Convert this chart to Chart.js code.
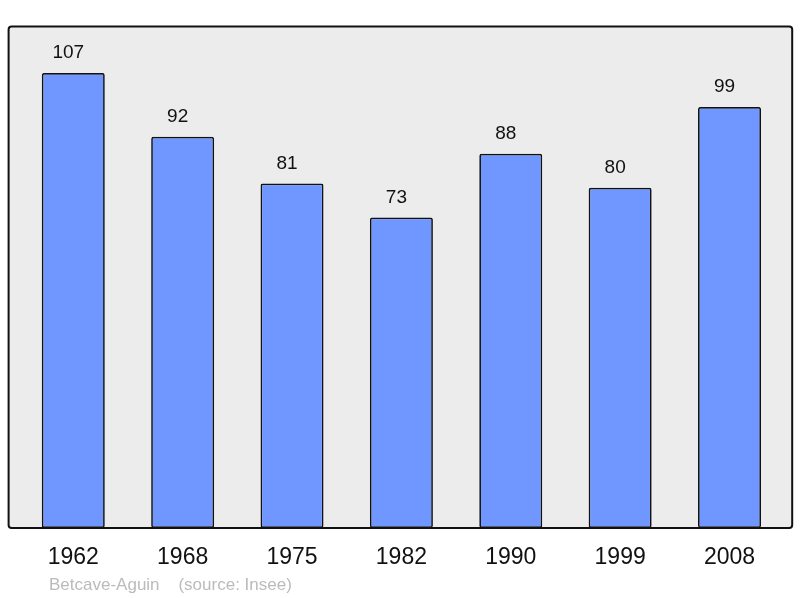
<!DOCTYPE html>
<html lang="fr">
<head>
<meta charset="UTF-8">
<title>Betcave-Aguin population</title>
<script src="https://cdn.jsdelivr.net/npm/chart.js@4.4.0/dist/chart.umd.min.js"></script>
<style>
    html, body { margin: 0; padding: 0; background: #fff; overflow: hidden; }
    #wrap { width: 800px; height: 598px; }
</style>
</head>
<body>
<div id="wrap"><canvas id="chart"></canvas></div>
<script>
    const years = ['1962', '1968', '1975', '1982', '1990', '1999', '2008'];
    const population = [107, 92, 81, 73, 88, 80, 99];
    const footerText = 'Betcave-Aguin    (source: Insee)';

    const FONT = '"Liberation Sans", Arial, sans-serif';

    // grey panel behind the bars, black rounded frame over them
    const framePlugin = {
        id: 'frame',
        box(chart) {
            const a = chart.chartArea;
            return { x: a.left - 10, y: a.top - 0.5, w: (a.right + 8) - (a.left - 10), h: a.bottom - a.top + 0.5 };
        },
        beforeDatasetsDraw(chart) {
            const c = chart.ctx, b = this.box(chart);
            c.save();
            c.fillStyle = '#ececec';
            c.beginPath();
            c.roundRect(b.x, b.y, b.w, b.h, 3);
            c.fill();
            c.restore();
        },
        afterDatasetsDraw(chart) {
            const c = chart.ctx, b = this.box(chart);
            c.save();
            c.strokeStyle = '#111';
            c.lineWidth = 2;
            c.beginPath();
            c.roundRect(b.x, b.y, b.w, b.h, 3);
            c.stroke();
            c.restore();
        }
    };

    const valueLabels = {
        id: 'valueLabels',
        afterDatasetsDraw(chart) {
            const c = chart.ctx;
            const meta = chart.getDatasetMeta(0);
            c.save();
            c.font = '19px ' + FONT;
            c.fillStyle = '#111';
            c.textAlign = 'center';
            c.textBaseline = 'alphabetic';
            meta.data.forEach((bar, i) => {
                c.fillText(String(population[i]), bar.x - 5, bar.y - 15);
            });
            c.restore();
        }
    };

    const footer = {
        id: 'footer',
        afterDraw(chart) {
            const c = chart.ctx;
            c.save();
            c.font = '17px ' + FONT;
            c.fillStyle = '#bbbbbb';
            c.textAlign = 'left';
            c.textBaseline = 'alphabetic';
            c.fillText(footerText, 49, 590);
            c.restore();
        }
    };

    new Chart(document.getElementById('chart'), {
        type: 'bar',
        data: {
            labels: years,
            datasets: [{
                data: population,
                backgroundColor: '#7096ff',
                borderColor: '#111',
                borderWidth: 1.7,
                borderRadius: 2,
                borderSkipped: false,
                barPercentage: 0.576,
                categoryPercentage: 1
            }]
        },
        options: {
            responsive: true,
            maintainAspectRatio: false,
            animation: false,
            devicePixelRatio: 1,
            layout: { padding: { left: 18.6, right: 15.8, top: 27, bottom: 0 } },
            plugins: {
                legend: { display: false },
                tooltip: { enabled: false }
            },
            scales: {
                x: {
                    grid: { display: false, drawTicks: false },
                    border: { display: false },
                    ticks: {
                        color: '#111',
                        font: { family: FONT, size: 23 },
                        padding: 16
                    },
                    afterFit(scale) { scale.height = 70; }
                },
                y: {
                    display: false,
                    min: 0,
                    max: 117.8
                }
            }
        },
        plugins: [framePlugin, valueLabels, footer]
    });
</script>
</body>
</html>
